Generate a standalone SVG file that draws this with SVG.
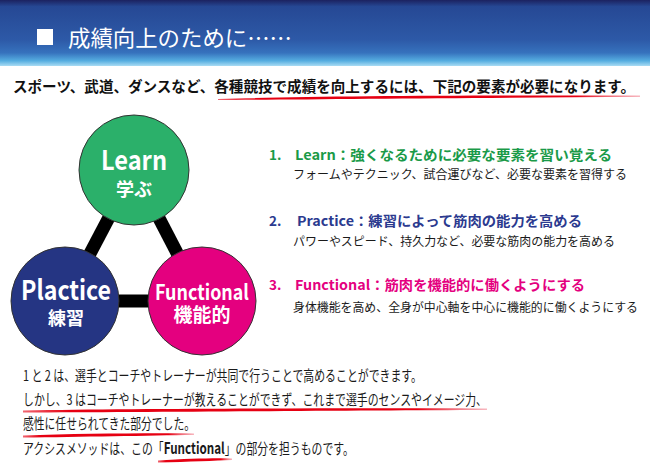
<svg xmlns="http://www.w3.org/2000/svg" width="650" height="470" viewBox="0 0 650 470">
<defs>
<linearGradient id="hdr" x1="0" y1="0" x2="0" y2="1">
<stop offset="0" stop-color="#1c2260"/>
<stop offset="0.1" stop-color="#264894"/>
<stop offset="0.6" stop-color="#2d59a7"/>
<stop offset="0.8" stop-color="#3672bd"/>
<stop offset="0.92" stop-color="#55ade0"/>
<stop offset="1" stop-color="#a9dcf4"/>
</linearGradient>
<linearGradient id="brush" x1="0" y1="0" x2="1" y2="0">
<stop offset="0" stop-color="#e60012" stop-opacity="0.6"/>
<stop offset="0.1" stop-color="#e60012"/>
<stop offset="0.85" stop-color="#e60012"/>
<stop offset="1" stop-color="#f07080" stop-opacity="0.5"/>
</linearGradient>
<style>
text{font-family:"Noto Sans CJK JP","Noto Sans",sans-serif;}
.t{fill:#fff;font-weight:bold;text-anchor:middle;}
.b{font-size:14.5px;fill:#1a1a1a;}
.s{font-size:12px;fill:#1a1a1a;}
.h{font-size:13.5px;font-weight:bold;}
.circ{stroke:#333;stroke-width:1;}
.brush{fill:url(#brush);}
</style>
</defs>

<rect x="0" y="0" width="650" height="66" fill="url(#hdr)"/>
<rect x="37" y="29" width="16" height="16" fill="#fff"/>
<text x="68" y="46" font-size="22" fill="#fff" textLength="224" lengthAdjust="spacingAndGlyphs">成績向上のために……</text>

<text x="13" y="92" font-size="14.5" font-weight="bold" fill="#111" textLength="622" lengthAdjust="spacingAndGlyphs">スポーツ、武道、ダンスなど、各種競技で成績を向上するには、下記の要素が必要になります。</text>
<path class="brush" d="M218,99 C300,96 480,95 640,95.5 L640,97 C480,97.5 300,99.5 218,100 Z"/>

<g id="connectors" stroke="#000" stroke-width="13">
<line x1="134" y1="170" x2="65" y2="301"/>
<line x1="134" y1="170" x2="202" y2="301"/>
<line x1="65" y1="301" x2="202" y2="301"/>
</g>

<g id="learn">
<circle class="circ" cx="134" cy="170" r="55" fill="#2bb06a"/>
<text class="t" x="134" y="170" font-size="27"><tspan textLength="66" lengthAdjust="spacingAndGlyphs">Learn</tspan><tspan x="134" dy="26" font-size="18">学ぶ</tspan></text>
</g>
<g id="plactice">
<circle class="circ" cx="65" cy="301" r="54" fill="#253583"/>
<text class="t" x="66" y="300" font-size="27"><tspan textLength="90" lengthAdjust="spacingAndGlyphs">Plactice</tspan><tspan x="66" dy="25" font-size="18">練習</tspan></text>
</g>
<g id="functional">
<circle class="circ" cx="202" cy="301" r="54" fill="#e4007f"/>
<text class="t" x="202" y="300" font-size="21"><tspan textLength="94" lengthAdjust="spacingAndGlyphs">Functional</tspan><tspan x="202" dy="22" font-size="19">機能的</tspan></text>
</g>

<g id="item1">
<text class="h" x="269" y="160" fill="#1a9a48">1.</text>
<text class="h" x="295" y="160" fill="#1a9a48" textLength="317" lengthAdjust="spacingAndGlyphs">Learn：強くなるために必要な要素を習い覚える</text>
<text class="s" x="293" y="179" textLength="334" lengthAdjust="spacingAndGlyphs">フォームやテクニック、試合運びなど、必要な要素を習得する</text>
</g>
<g id="item2">
<text class="h" x="269" y="226" fill="#2b3a8f">2.</text>
<text class="h" x="297" y="226" fill="#2b3a8f" textLength="285" lengthAdjust="spacingAndGlyphs">Practice：練習によって筋肉の能力を高める</text>
<text class="s" x="293" y="246" textLength="322" lengthAdjust="spacingAndGlyphs">パワーやスピード、持久力など、必要な筋肉の能力を高める</text>
</g>
<g id="item3">
<text class="h" x="269" y="290" fill="#e4007f">3.</text>
<text class="h" x="295" y="290" fill="#e4007f" textLength="290" lengthAdjust="spacingAndGlyphs">Functional：筋肉を機能的に働くようにする</text>
<text class="s" x="293" y="312" textLength="345" lengthAdjust="spacingAndGlyphs">身体機能を高め、全身が中心軸を中心に機能的に働くようにする</text>
</g>

<g id="bottom">
<text class="b" x="23" y="381" textLength="399" lengthAdjust="spacingAndGlyphs">1 と 2 は、選手とコーチやトレーナーが共同で行うことで高めることができます。</text>
<path class="brush" d="M23,410.5 C150,408.5 350,408 487,408.5 L487,410 C350,410.5 150,412 23,412.5 Z"/>
<text class="b" x="23" y="405" textLength="464" lengthAdjust="spacingAndGlyphs">しかし、3 はコーチやトレーナーが教えることができず、これまで選手のセンスやイメージ力、</text>
<path class="brush" d="M23,435.5 C80,433.5 150,433 194,433.5 L194,435 C150,435.5 80,437 23,437.5 Z"/>
<text class="b" x="23" y="429" textLength="172" lengthAdjust="spacingAndGlyphs">感性に任せられてきた部分でした。</text>
<path class="brush" d="M158,460.5 C190,458.5 215,458 232,458.5 L232,460 C215,460.5 190,462 158,462.5 Z"/>
<text class="b" transform="translate(23,454) scale(0.75,1)" x="0" y="0">アクシスメソッドは、この「<tspan font-weight="bold" font-size="15.5">Functional</tspan>」の部分を担うものです。</text>
</g>
</svg>
